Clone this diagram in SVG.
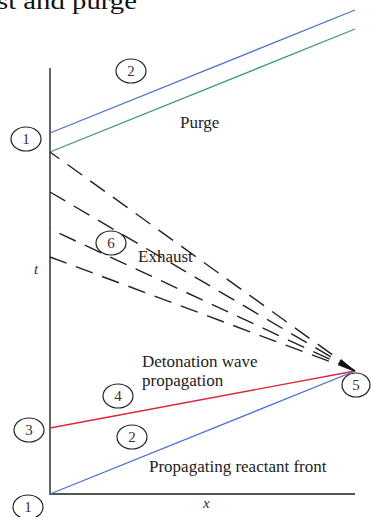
<svg xmlns="http://www.w3.org/2000/svg" width="371" height="517" viewBox="0 0 371 517">
<style>
.lbl{font-family:"Liberation Serif","Times New Roman",serif;font-size:17px;fill:#222}
.num{font-family:"Liberation Serif","Times New Roman",serif;font-size:15px;fill:#333;text-anchor:middle}
.it{font-family:"Liberation Serif","Times New Roman",serif;font-size:15px;font-style:italic;fill:#333}
.ring{fill:none;stroke:#222;stroke-width:1.2}
.axis{stroke:#555;stroke-width:1.8;fill:none}
.dash{stroke:#222;stroke-width:1.4;stroke-dasharray:18 10;fill:none}
</style>
<rect width="371" height="517" fill="#fff"/>
<text x="-3" y="9" font-family="Liberation Serif, serif" font-size="23" fill="#111" textLength="140" lengthAdjust="spacingAndGlyphs">st and purge</text>
<g id="connectors">
  <path class="axis" d="M50 68 V494 H355"/>
  <line x1="50" y1="133" x2="355" y2="10" stroke="#5570c8" stroke-width="1.3"/>
  <line x1="50" y1="152" x2="355" y2="29" stroke="#3f9a6e" stroke-width="1.3"/>
  <line x1="50" y1="428" x2="355" y2="371" stroke="#d8283c" stroke-width="1.4"/>
  <line x1="50" y1="494" x2="355" y2="371" stroke="#4f6fd0" stroke-width="1.3"/>
  <line class="dash" x1="355" y1="371" x2="50" y2="152"/>
  <line class="dash" x1="355" y1="371" x2="50" y2="192"/>
  <line class="dash" x1="355" y1="371" x2="50" y2="229"/>
  <line class="dash" x1="355" y1="371" x2="50" y2="257"/>
  <polygon points="338,364 341,359 355,371" fill="#111"/>
</g>
<g id="n1top"><ellipse class="ring" cx="26" cy="139" rx="15" ry="12"/><text class="num" x="26" y="144">1</text></g>
<g id="n2top"><ellipse class="ring" cx="131" cy="71" rx="15" ry="12"/><text class="num" x="131" y="76">2</text></g>
<g id="n6"><ellipse class="ring" cx="111" cy="243" rx="15" ry="12"/><text class="num" x="111" y="248">6</text></g>
<g id="n4"><ellipse class="ring" cx="118" cy="396" rx="15" ry="12"/><text class="num" x="118" y="401">4</text></g>
<g id="n3"><ellipse class="ring" cx="29" cy="430" rx="15" ry="12"/><text class="num" x="29" y="435">3</text></g>
<g id="n2low"><ellipse class="ring" cx="132" cy="437" rx="15" ry="12"/><text class="num" x="132" y="442">2</text></g>
<g id="n5"><ellipse class="ring" cx="356" cy="385" rx="14" ry="12"/><text class="num" x="356" y="390">5</text></g>
<g id="n1low"><ellipse class="ring" cx="28" cy="507" rx="15" ry="12"/><text class="num" x="28" y="512">1</text></g>
<g id="labels">
  <text class="lbl" x="180" y="128">Purge</text>
  <text class="lbl" x="138" y="262">Exhaust</text>
  <text class="it" x="34" y="274">t</text>
  <text class="lbl" x="142" y="367">Detonation wave</text>
  <text class="lbl" x="142" y="386">propagation</text>
  <text class="lbl" x="149" y="472">Propagating reactant front</text>
  <text class="it" x="203" y="508">x</text>
</g>
</svg>
